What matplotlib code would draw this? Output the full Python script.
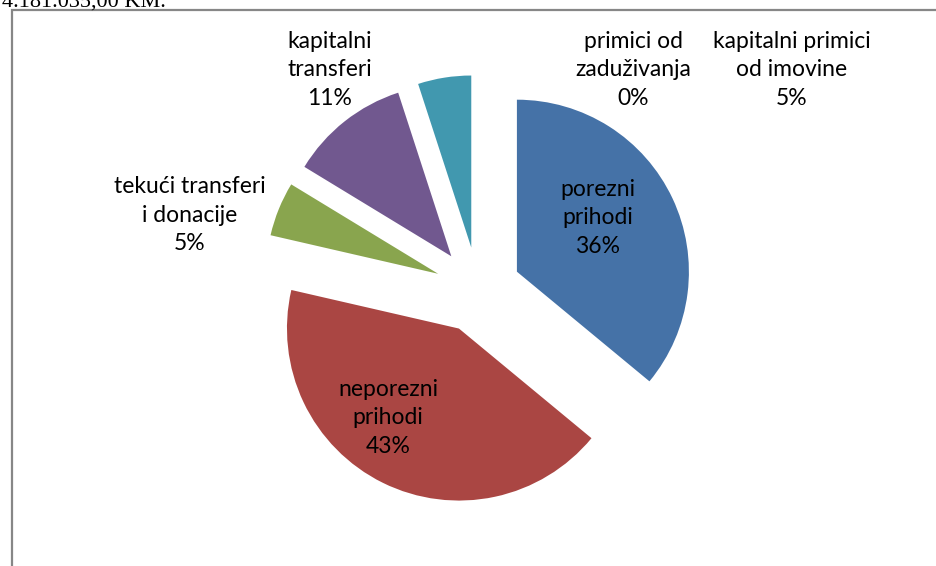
import matplotlib
matplotlib.use("Agg")
import matplotlib.pyplot as plt

# udio prihoda po vrstama (%)
categories = ["porezni\nprihodi", "neporezni\nprihodi", "tekući transferi\ni donacije",
              "kapitalni\ntransferi", "kapitalni primici\nod imovine", "primici od\nzaduživanja"]
shares = [36.0, 42.6, 5.1, 11.3, 5.0, 0.0]
colors = ["#4572A7", "#AA4643", "#89A54E", "#71588F", "#4198AF", "#DB843D"]

# where each label sits (pixels, from top-left)
label_pos = [(598, 218), (388, 418), (190, 215), (330, 70), (792, 70), (633, 70)]

W, H = 936, 566
fig = plt.figure(figsize=(W / 100, H / 100), dpi=100)
ax = fig.add_axes([0, 0, 1, 1])

ax.pie(shares, colors=colors, startangle=90, counterclock=False,
       center=(478, H - 290), radius=172, explode=[43] * len(shares),
       frame=True)
ax.set_xlim(0, W)
ax.set_ylim(0, H)
ax.set_aspect("equal")
ax.axis("off")

for name, val, (x, y) in zip(categories, shares, label_pos):
    ax.text(x, H - y, "{}\n{:.0f}%".format(name, val), ha="center", va="center",
            fontsize=16.5, family="Lato", linespacing=1.45, color="black")

# chart frame (only left and top edges are visible)
ax.plot([12, 12, W + 5], [-5, H - 10, H - 10], color="#878787", lw=1.6,
        clip_on=False, solid_joinstyle="miter")

# text of the page above the chart, mostly cut off
fig.text(0.002, 1 - 7 / H, "4.181.035,00 KM.", family="Liberation Serif",
         fontsize=16, va="baseline", ha="left")

fig.savefig("out.png", dpi=100)
